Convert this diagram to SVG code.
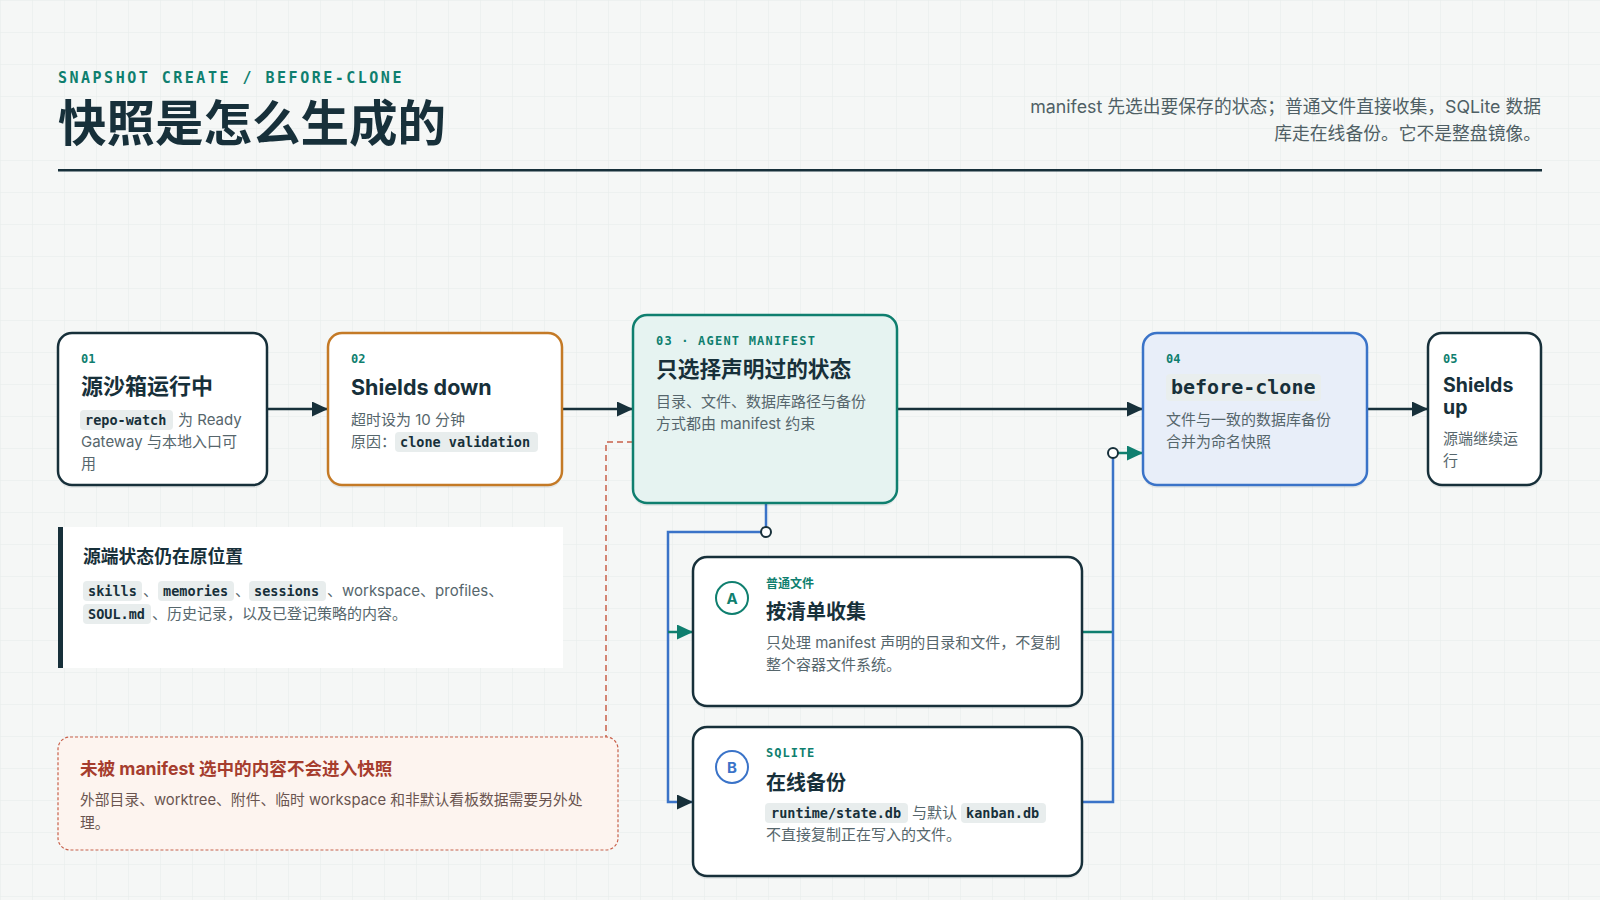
<svg xmlns="http://www.w3.org/2000/svg" width="1600" height="900" viewBox="0 0 1600 900">
<defs>
<pattern id="grid" width="32" height="32" patternUnits="userSpaceOnUse">
<path d="M32 0 H0 V32" fill="none" stroke="#e6ebe9" stroke-width="1"/>
</pattern>
<marker id="arrDark" viewBox="0 0 16 15" refX="16" refY="7.5" markerWidth="16" markerHeight="15" markerUnits="userSpaceOnUse" orient="auto"><path d="M0,0 L16,7.5 L0,15 z" fill="#17303a"/></marker>
<marker id="arrTeal" viewBox="0 0 16 15" refX="16" refY="7.5" markerWidth="16" markerHeight="15" markerUnits="userSpaceOnUse" orient="auto"><path d="M0,0 L16,7.5 L0,15 z" fill="#0f7f6f"/></marker>
<style>
.sans{font-family:Inter,"Noto Sans CJK SC","Noto Sans",sans-serif;}
.mono{font-family:"DejaVu Sans Mono","Liberation Mono",monospace;font-weight:700;}
.eyebrow{font-family:"DejaVu Sans Mono","Liberation Mono",monospace;font-weight:700;fill:#0f7f6f;font-size:12px;}
.ttl{font-family:Inter,"Noto Sans CJK SC",sans-serif;font-weight:700;fill:#17303a;}
.body{font-family:Inter,"Noto Sans CJK SC",sans-serif;fill:#56666c;font-size:15px;}
.code{font-family:"DejaVu Sans Mono","Liberation Mono",monospace;font-weight:700;fill:#17303a;font-size:13.5px;}
.chip{fill:#e8eded;}
.shadow{fill:#17303a;fill-opacity:0.07;}
.conn{fill:none;stroke-width:2.5;}
</style>
</defs>
<rect x="0" y="0" width="1600" height="900" fill="#f5f7f6"/>
<rect x="0" y="0" width="1600" height="900" fill="url(#grid)"/>

<g id="header">
<text x="58" y="83" class="mono" font-size="15" fill="#0f7f6f" letter-spacing="2.5">SNAPSHOT CREATE / BEFORE-CLONE</text>
<text x="58" y="141" class="ttl" font-size="48.5">快照是怎么生成的</text>
<text x="1541" y="113" class="sans" font-size="17.8" fill="#4f5f65" text-anchor="end">manifest 先选出要保存的状态；普通文件直接收集，SQLite 数据</text>
<text x="1541" y="140" class="sans" font-size="17.8" fill="#4f5f65" text-anchor="end">库走在线备份。它不是整盘镜像。</text>
<rect x="58" y="169" width="1484" height="2.5" fill="#17303a"/>
</g>

<g id="connectors">
<path class="conn" d="M267,409 H328" stroke="#17303a" marker-end="url(#arrDark)"/>
<path class="conn" d="M562,409 H633" stroke="#17303a" marker-end="url(#arrDark)"/>
<path class="conn" d="M897,409 H1143" stroke="#17303a" marker-end="url(#arrDark)"/>
<path class="conn" d="M1367,409 H1428" stroke="#17303a" marker-end="url(#arrDark)"/>
<path class="conn" d="M766,503 V532 H668 V802 H693" stroke="#3a73c8" marker-end="url(#arrDark)"/>
<path class="conn" d="M668,632 H693" stroke="#0f7f6f" stroke-width="2" marker-end="url(#arrTeal)"/>
<path class="conn" d="M1082,632 H1113" stroke="#0f7f6f" stroke-width="2"/>
<path class="conn" d="M1082,802 H1113 V453" stroke="#3a73c8"/>
<path class="conn" d="M1118,453 H1143" stroke="#0f7f6f" stroke-width="2" marker-end="url(#arrTeal)"/>
<circle cx="766" cy="532" r="5" fill="#ffffff" stroke="#17303a" stroke-width="2"/>
<circle cx="1113" cy="453" r="5" fill="#ffffff" stroke="#17303a" stroke-width="2"/>
<path d="M633,442 H606 V737" fill="none" stroke="#c8604a" stroke-width="1.5" stroke-dasharray="6 4"/>
</g>

<g id="node-01">
<rect x="58" y="336" width="209" height="152" rx="14" class="shadow"/>
<rect x="58" y="333" width="209" height="152" rx="14" fill="#ffffff" stroke="#17303a" stroke-width="2.5"/>
<text x="81" y="363" class="eyebrow">01</text>
<text x="81" y="394" class="ttl" font-size="22">源沙箱运行中</text>
<rect x="80" y="410" width="93" height="20" rx="4" class="chip"/>
<text x="85" y="425" class="code">repo-watch</text>
<text x="178" y="425" class="body">为 Ready</text>
<text x="81" y="447" class="body">Gateway 与本地入口可</text>
<text x="81" y="469" class="body">用</text>
</g>

<g id="node-02">
<rect x="328" y="336" width="234" height="152" rx="14" class="shadow"/>
<rect x="328" y="333" width="234" height="152" rx="14" fill="#ffffff" stroke="#c47a26" stroke-width="2.5"/>
<text x="351" y="363" class="eyebrow">02</text>
<text x="351" y="395" class="ttl" font-size="21.5">Shields down</text>
<text x="351" y="425" class="body">超时设为 10 分钟</text>
<text x="351" y="447" class="body">原因：</text>
<rect x="395" y="432" width="143" height="20" rx="4" class="chip"/>
<text x="400" y="447" class="code">clone validation</text>
</g>

<g id="node-03">
<rect x="633" y="318" width="264" height="188" rx="14" class="shadow"/>
<rect x="633" y="315" width="264" height="188" rx="14" fill="#e6f3f1" stroke="#0f7f6f" stroke-width="2.5"/>
<text x="656" y="345" class="eyebrow" letter-spacing="1.2">03 · AGENT MANIFEST</text>
<text x="656" y="377" class="ttl" font-size="21.7">只选择声明过的状态</text>
<text x="656" y="407" class="body">目录、文件、数据库路径与备份</text>
<text x="656" y="429" class="body">方式都由 manifest 约束</text>
</g>

<g id="node-04">
<rect x="1143" y="336" width="224" height="152" rx="14" class="shadow"/>
<rect x="1143" y="333" width="224" height="152" rx="14" fill="#e8eef9" stroke="#3a73c8" stroke-width="2.5"/>
<text x="1166" y="363" class="eyebrow">04</text>
<rect x="1166" y="374" width="155" height="27" rx="4" fill="#e9eeee"/>
<text x="1171" y="394" class="mono" font-size="20" fill="#17303a">before-clone</text>
<text x="1166" y="425" class="body">文件与一致的数据库备份</text>
<text x="1166" y="447" class="body">合并为命名快照</text>
</g>

<g id="node-05">
<rect x="1428" y="336" width="113" height="152" rx="14" class="shadow"/>
<rect x="1428" y="333" width="113" height="152" rx="14" fill="#ffffff" stroke="#17303a" stroke-width="2.5"/>
<text x="1443" y="363" class="eyebrow">05</text>
<text x="1443" y="392" class="ttl" font-size="19.5">Shields</text>
<text x="1443" y="414" class="ttl" font-size="19.5">up</text>
<text x="1443" y="444" class="body">源端继续运</text>
<text x="1443" y="466" class="body">行</text>
</g>

<g id="panel-source">
<rect x="58" y="527" width="505" height="141" fill="#ffffff"/>
<rect x="58" y="527" width="5" height="141" fill="#17303a"/>
<text x="83" y="563" class="ttl" font-size="17.8">源端状态仍在原位置</text>
<rect x="83" y="581" width="59" height="20" rx="4" class="chip"/>
<text x="88" y="596" class="code">skills</text>
<text x="143" y="596" class="body">、</text>
<rect x="158" y="581" width="76" height="20" rx="4" class="chip"/>
<text x="163" y="596" class="code">memories</text>
<text x="235" y="596" class="body">、</text>
<rect x="249" y="581" width="77" height="20" rx="4" class="chip"/>
<text x="254" y="596" class="code">sessions</text>
<text x="327" y="596" class="body">、workspace、profiles、</text>
<rect x="83" y="604" width="68" height="20" rx="4" class="chip"/>
<text x="88" y="619" class="code">SOUL.md</text>
<text x="152" y="619" class="body">、历史记录，以及已登记策略的内容。</text>
</g>

<g id="panel-excluded">
<rect x="58" y="737" width="560" height="113" rx="12" fill="#fdf4ef" stroke="#c8604a" stroke-width="1.2" stroke-dasharray="3 2"/>
<text x="80" y="775" class="sans" font-weight="700" font-size="17.6" fill="#a63d2e">未被 manifest 选中的内容不会进入快照</text>
<text x="80" y="805" class="sans" font-size="14.8" fill="#6a5450">外部目录、worktree、附件、临时 workspace 和非默认看板数据需要另外处</text>
<text x="80" y="828" class="sans" font-size="14.8" fill="#6a5450">理。</text>
</g>

<g id="node-A">
<rect x="693" y="560" width="389" height="149" rx="14" class="shadow"/>
<rect x="693" y="557" width="389" height="149" rx="14" fill="#ffffff" stroke="#17303a" stroke-width="2.5"/>
<circle cx="732" cy="598" r="16" fill="none" stroke="#0f7f6f" stroke-width="2"/>
<text x="732" y="603.5" class="sans" font-weight="700" font-size="15" fill="#0f7f6f" text-anchor="middle">A</text>
<text x="766" y="588" class="sans" font-weight="700" font-size="12" fill="#0f7f6f">普通文件</text>
<text x="766" y="619" class="ttl" font-size="20">按清单收集</text>
<text x="766" y="648" class="body">只处理 manifest 声明的目录和文件，不复制</text>
<text x="766" y="670" class="body">整个容器文件系统。</text>
</g>

<g id="node-B">
<rect x="693" y="730" width="389" height="149" rx="14" class="shadow"/>
<rect x="693" y="727" width="389" height="149" rx="14" fill="#ffffff" stroke="#17303a" stroke-width="2.5"/>
<circle cx="732" cy="767" r="16" fill="none" stroke="#3a73c8" stroke-width="2"/>
<text x="732" y="772.5" class="sans" font-weight="700" font-size="15" fill="#3a73c8" text-anchor="middle">B</text>
<text x="766" y="757" class="eyebrow" letter-spacing="1">SQLITE</text>
<text x="766" y="790" class="ttl" font-size="20">在线备份</text>
<rect x="765" y="803" width="143" height="20" rx="4" class="chip"/>
<text x="771" y="818" class="code">runtime/state.db</text>
<text x="912" y="818" class="body">与默认</text>
<rect x="961" y="803" width="85" height="20" rx="4" class="chip"/>
<text x="966" y="818" class="code">kanban.db</text>
<text x="766" y="840" class="body">不直接复制正在写入的文件。</text>
</g>
</svg>
